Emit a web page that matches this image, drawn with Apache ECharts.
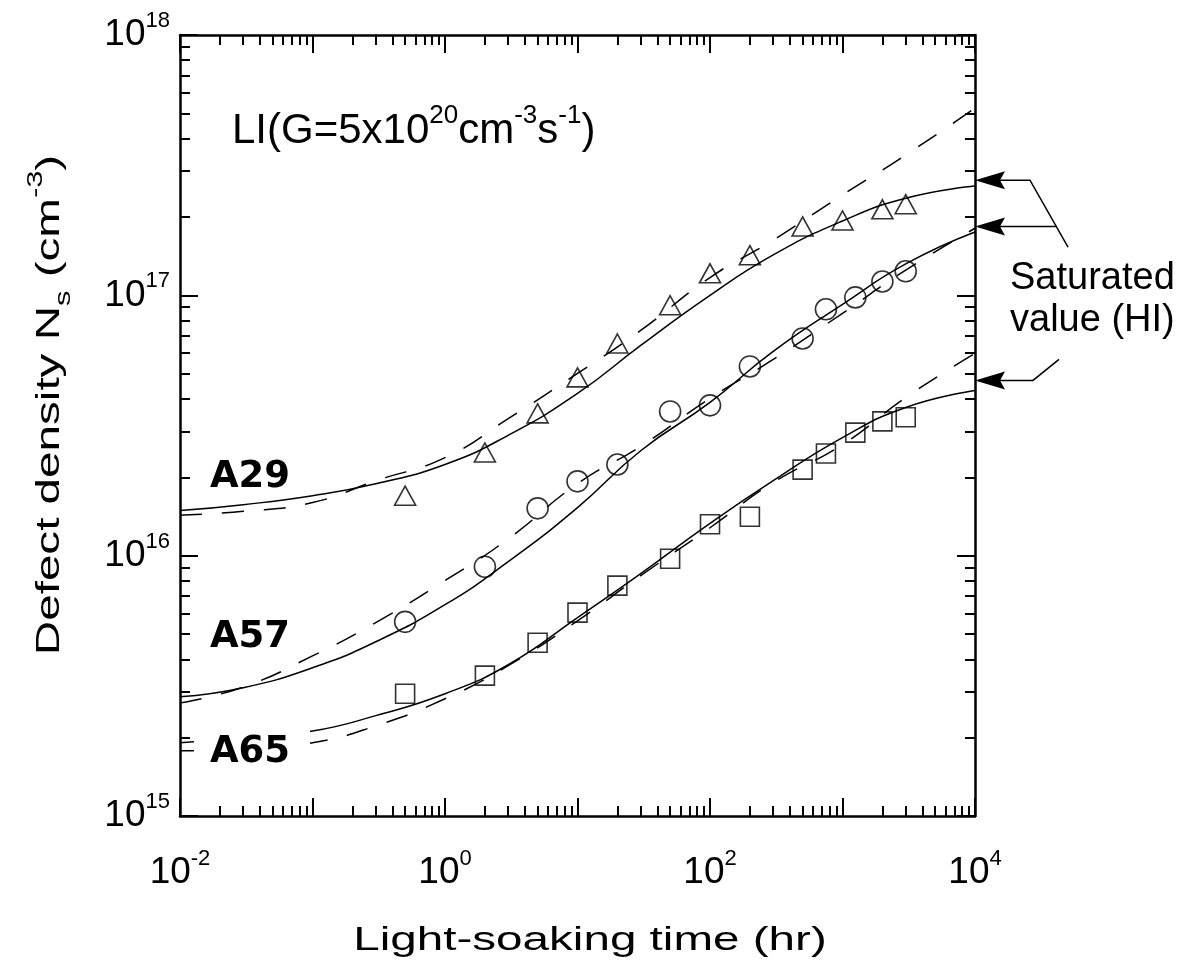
<!DOCTYPE html>
<html><head><meta charset="utf-8">
<script src="https://cdn.jsdelivr.net/npm/echarts@6/dist/echarts.min.js"></script>
<style>html,body{margin:0;padding:0;background:#fff}#c{width:1180px;height:972px}</style>
</head><body><div id="c"></div>
<script>
// ---- data (time in hr, defect density in cm^-3) ----
const timesA29 = [0.5, 2, 5, 10, 20, 50, 100, 200, 500, 1000, 2000, 3000];
const valsA29  = [1.70e16, 2.49e16, 3.52e16, 4.84e16, 6.53e16, 9.16e16, 1.215e17, 1.426e17, 1.84e17, 1.94e17, 2.14e17, 2.24e17];
const timesA57 = [0.5, 2, 5, 10, 20, 50, 100, 200, 500, 750, 1250, 2000, 3000];
const valsA57  = [5.57e15, 9.07e15, 1.52e16, 1.93e16, 2.24e16, 3.58e16, 3.78e16, 5.33e16, 6.83e16, 8.84e16, 9.82e16, 1.13e17, 1.237e17];
const timesA65 = [0.5, 2, 5, 10, 20, 50, 100, 200, 500, 750, 1250, 2000, 3000];
const valsA65  = [2.95e15, 3.46e15, 4.63e15, 6.04e15, 7.67e15, 9.73e15, 1.32e16, 1.41e16, 2.14e16, 2.47e16, 2.97e16, 3.28e16, 3.40e16];

const curveTimes = [0.01, 0.03, 0.1, 0.3, 1, 3, 10, 30, 100, 300, 1000, 3000, 10000];
const solidA29 = [1.49e16, 1.57e16, 1.70e16, 1.89e16, 2.24e16, 2.90e16, 4.20e16, 6.42e16, 1.0e17, 1.43e17, 1.93e17, 2.36e17, 2.63e17];
const dashA29  = [1.43e16, 1.48e16, 1.60e16, 1.94e16, 2.38e16, 3.36e16, 5.01e16, 7.33e16, 1.17e17, 1.63e17, 2.43e17, 3.46e17, 5.24e17];
const solidA57 = [2.87e15, 3.11e15, 3.71e15, 4.67e15, 6.48e15, 9.48e15, 1.53e16, 2.53e16, 3.88e16, 6.09e16, 9.23e16, 1.32e17, 1.75e17];
const dashA57  = [2.72e15, 3.13e15, 4.12e15, 5.53e15, 8.02e15, 1.16e16, 1.89e16, 2.63e16, 4.02e16, 5.67e16, 8.53e16, 1.25e17, 1.81e17];
const solidA65 = [1.91e15, 2.00e15, 2.12e15, 2.43e15, 2.95e15, 3.81e15, 5.78e15, 8.53e15, 1.33e16, 1.94e16, 2.84e16, 3.71e16, 4.31e16];
const dashA65  = [1.78e15, 1.81e15, 1.91e15, 2.22e15, 2.82e15, 3.78e15, 5.62e15, 8.38e15, 1.28e16, 1.91e16, 2.67e16, 4.05e16, 5.98e16];

const saturatedHI = [2.77e17, 1.84e17, 4.71e16];   // A29, A57, A65

const xDecades = [-2, -1, 0, 1, 2, 3, 4];
const xLabelExps = [-2, 0, 2, 4];
const yDecades = [15, 16, 17, 18];
const minorFactors = [2, 3, 4, 5, 6, 7, 8, 9];

const sampleNames = ['A29', 'A57', 'A65'];
const xTitle = 'Light-soaking time (hr)';
const conditionText = '{n|LI(G=5x10}{sup|20}{n|cm}{sup|-3}{n|s}{sup|-1}{n|)}';
const yTitleRich = '{n|Defect density N}{sub|s}{n| (cm}{sup|-3}{n|)}';
const saturatedText = 'Saturated\nvalue (HI)';

// ---- helpers ----
const LOG = Math.log10;
const toXY = (ts, vs) => ts.map((t, i) => [LOG(t), LOG(vs[i])]);
function minorTicks(lo, hi) {
  const out = [];
  for (let e = lo; e < hi; e++) minorFactors.forEach(k => out.push(e + LOG(k)));
  return out;
}
const FONT = '"Liberation Sans", Arial, Helvetica, sans-serif';
const richLbl = {
  n: { fontSize: 37, lineHeight: 50, fontFamily: FONT, color: '#000', verticalAlign: 'middle' },
  sup: { fontSize: 22, lineHeight: 22, fontFamily: FONT, color: '#000', verticalAlign: 'top' }
};
const lineSt = { color: '#000', width: 2.5 };
const tickSt = { color: '#000', width: 2 };

function mkAxis(dim, pos, lo, hi, major, showLabel, labelExps) {
  const ax = {
    type: 'value', min: lo, max: hi, position: pos,
    axisLine: { show: major, onZero: false, lineStyle: lineSt },
    axisTick: { show: true, inside: true, length: major ? 18 : 10, lineStyle: tickSt },
    splitLine: { show: false },
    axisLabel: { show: false }
  };
  if (major) { ax.interval = 1; }
  else { ax.axisTick.customValues = minorTicks(lo, hi); }
  if (showLabel) {
    ax.axisLabel = {
      show: true, margin: dim === 'x' ? 32 : 10,
      showMinLabel: true, showMaxLabel: true,
      formatter: v => (labelExps.indexOf(Math.round(v)) >= 0 ? '{n|10}{sup|' + Math.round(v) + '}' : ''),
      rich: richLbl
    };
  }
  return ax;
}

const chart = echarts.init(document.getElementById('c'), null, { renderer: 'canvas' });

const markerStyle = { color: 'rgba(0,0,0,0)', borderColor: '#000', borderWidth: 1.6 };
function curve(name, vals, dashed) {
  return {
    type: 'line', name, data: toXY(curveTimes, vals), smooth: 0.5,
    showSymbol: false, symbol: 'none', silent: true, z: 3,
    lineStyle: { color: '#000', width: 1.5, type: dashed ? [22, 20] : 'solid' }
  };
}

const option = {
  animation: false,
  backgroundColor: '#fff',
  grid: { left: 180, right: 205, top: 35, bottom: 156, containLabel: false },
  xAxis: [
    mkAxis('x', 'bottom', xDecades[0], xDecades[xDecades.length - 1], true, true, xLabelExps),
    mkAxis('x', 'bottom', xDecades[0], xDecades[xDecades.length - 1], false, false),
    mkAxis('x', 'top', xDecades[0], xDecades[xDecades.length - 1], true, false),
    mkAxis('x', 'top', xDecades[0], xDecades[xDecades.length - 1], false, false)
  ],
  yAxis: [
    mkAxis('y', 'left', yDecades[0], yDecades[yDecades.length - 1], true, true, yDecades),
    mkAxis('y', 'left', yDecades[0], yDecades[yDecades.length - 1], false, false),
    mkAxis('y', 'right', yDecades[0], yDecades[yDecades.length - 1], true, false),
    mkAxis('y', 'right', yDecades[0], yDecades[yDecades.length - 1], false, false)
  ],
  series: [
    curve('A29 fit', solidA29, false), curve('A29 model', dashA29, true),
    curve('A57 fit', solidA57, false), curve('A57 model', dashA57, true),
    curve('A65 fit', solidA65, false), curve('A65 model', dashA65, true),
    { type: 'scatter', name: 'A29', data: toXY(timesA29, valsA29), symbol: 'triangle', symbolSize: [21, 19], itemStyle: markerStyle, z: 5 },
    { type: 'scatter', name: 'A57', data: toXY(timesA57, valsA57), symbol: 'circle', symbolSize: 21, itemStyle: markerStyle, z: 5 },
    { type: 'scatter', name: 'A65', data: toXY(timesA65, valsA65), symbol: 'rect', symbolSize: 19, itemStyle: markerStyle, z: 5 }
  ]
};
chart.setOption(option);

// ---- annotations ----
const tips = saturatedHI.map(v => chart.convertToPixel({ xAxisIndex: 0, yAxisIndex: 0 }, [xDecades[xDecades.length - 1], LOG(v)]));
const els = [];
tips.forEach(p => {
  els.push({ type: 'polygon', z: 60, shape: { points: [[p[0], p[1]], [p[0] + 30, p[1] - 9], [p[0] + 25, p[1]], [p[0] + 30, p[1] + 9]] }, style: { fill: '#000' } });
});
const [t1, t2, t3] = tips;
els.push({ type: 'polyline', z: 60, shape: { points: [[t1[0] + 25, t1[1]], [t1[0] + 55, t1[1]], [t1[0] + 93, t1[1] + 67]] }, style: { stroke: '#000', lineWidth: 1.5, fill: null } });
els.push({ type: 'polyline', z: 60, shape: { points: [[t2[0] + 25, t2[1]], [t2[0] + 82, t2[1]]] }, style: { stroke: '#000', lineWidth: 1.5, fill: null } });
els.push({ type: 'polyline', z: 60, shape: { points: [[t3[0] + 25, t3[1]], [t3[0] + 58, t3[1]], [t3[0] + 84, t3[1] - 21]] }, style: { stroke: '#000', lineWidth: 1.5, fill: null } });

els.push({ type: 'text', z: 60, x: 1010, y: 258, style: { text: saturatedText, fontSize: 38, fontFamily: FONT, fill: '#000', lineHeight: 42, align: 'left', verticalAlign: 'top' } });

// sample labels
const labelY = [477, 637, 752];
els.push({ type: 'rect', z: 55, shape: { x: 194, y: 724, width: 116, height: 50 }, style: { fill: '#fff' } });
sampleNames.forEach((s, i) => {
  els.push({ type: 'text', z: 60, x: 250, y: labelY[i], style: { text: s, fontSize: 37, fontWeight: 'bold', fontFamily: '"DejaVu Sans", sans-serif', fill: '#000', align: 'center', verticalAlign: 'middle' } });
});

// condition text
els.push({ type: 'text', z: 60, x: 232, y: 131, style: {
  text: conditionText, align: 'left', verticalAlign: 'middle',
  rich: {
    n: { fontSize: 42, lineHeight: 56, fontFamily: FONT, fill: '#000', verticalAlign: 'middle' },
    sup: { fontSize: 26, lineHeight: 26, fontFamily: FONT, fill: '#000', verticalAlign: 'top' }
  } } });

// axis titles
els.push({ type: 'text', z: 60, x: 590, y: 941, scaleX: 1.4, style: { text: xTitle, fontSize: 34, fontFamily: FONT, fill: '#000', align: 'center', verticalAlign: 'middle' } });
els.push({ type: 'text', z: 60, x: 50, y: 405, rotation: Math.PI / 2, scaleX: 1.4, style: {
  text: yTitleRich, align: 'center', verticalAlign: 'middle',
  rich: {
    n: { fontSize: 34, lineHeight: 50, fontFamily: FONT, fill: '#000', verticalAlign: 'middle' },
    sup: { fontSize: 22, lineHeight: 22, fontFamily: FONT, fill: '#000', verticalAlign: 'top' },
    sub: { fontSize: 22, lineHeight: 22, fontFamily: FONT, fill: '#000', verticalAlign: 'bottom' }
  } } });

chart.setOption({ graphic: { elements: els } });
</script>
</body></html>
